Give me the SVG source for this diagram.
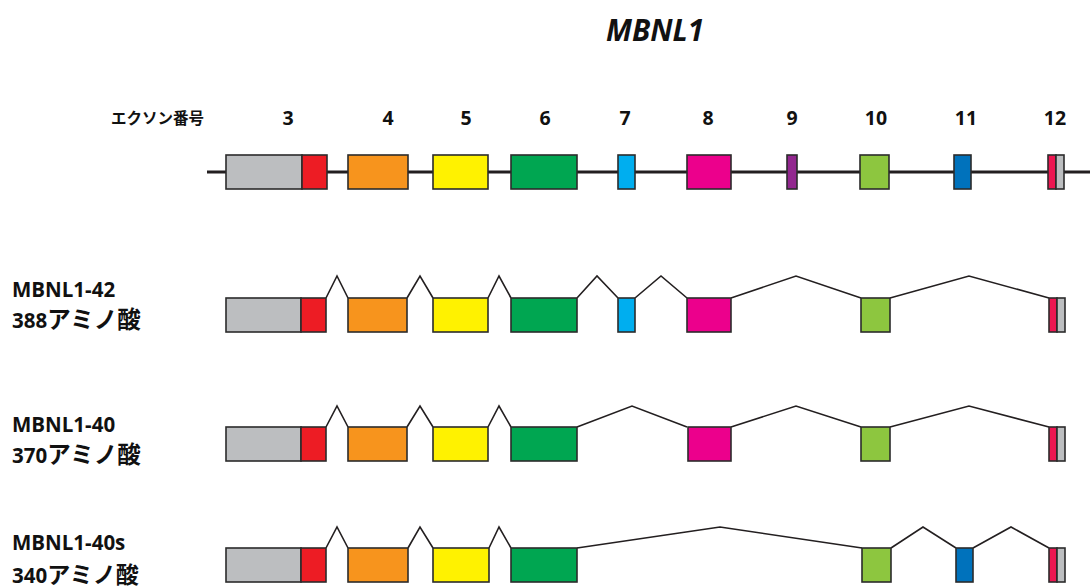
<svg xmlns="http://www.w3.org/2000/svg" width="1090" height="588" viewBox="0 0 1090 588">
  <style>
    .ex { stroke: #2b2b2b; stroke-width: 1.6; }
    .intron { fill: none; stroke: #231f20; stroke-width: 1.6; stroke-linejoin: miter; }
    .axis { stroke: #231f20; stroke-width: 3; }
    .num { font-family: "Open Sans", "Liberation Sans", sans-serif; font-weight: bold; font-size: 19.5px; fill: #111; text-anchor: middle; }
    .lab { font-family: "Open Sans", "Liberation Sans", sans-serif; font-weight: bold; font-size: 20.5px; fill: #111; }
    .jp { font-family: "Noto Sans CJK JP", sans-serif; font-weight: bold; font-size: 23.5px; }
    .jp-s { font-family: "Noto Sans CJK JP", sans-serif; font-weight: bold; font-size: 23px; }
    .gray { fill: #bcbec0; } .red { fill: #ed1c24; } .orange { fill: #f7941d; }
    .yellow { fill: #fff200; } .green { fill: #00a651; } .cyan { fill: #00aeef; }
    .magenta { fill: #ec008c; } .purple { fill: #92278f; } .lime { fill: #8dc63f; }
    .blue { fill: #0072bc; } .pink { fill: #ed1651; }
  </style>

  <!-- gene title -->
  <text x="655" y="41" text-anchor="middle" font-family="'Open Sans', 'Liberation Sans', sans-serif" font-weight="bold" font-style="italic" font-size="29.5" fill="#111">MBNL1</text>

  <!-- exon numbering -->
  <g id="exon-numbers">
    <text x="111" y="124" font-family="'Noto Sans CJK JP', sans-serif" font-weight="bold" font-size="15.5" fill="#111">エクソン番号</text>
    <text class="num" x="288" y="125">3</text>
    <text class="num" x="388" y="125">4</text>
    <text class="num" x="466" y="125">5</text>
    <text class="num" x="545" y="125">6</text>
    <text class="num" x="625" y="125">7</text>
    <text class="num" x="708" y="125">8</text>
    <text class="num" x="792" y="125">9</text>
    <text class="num" x="876" y="125">10</text>
    <text class="num" x="966" y="125">11</text>
    <text class="num" x="1055" y="125">12</text>
  </g>

  <!-- connectors: genomic axis and splice junctions -->
  <g id="connectors">
    <line class="axis" x1="207" y1="172" x2="1090" y2="172"/>
    <!-- MBNL1-42 -->
    <polyline class="intron" points="326,298 337,276 348,298"/>
    <polyline class="intron" points="407,298 420,276 433,298"/>
    <polyline class="intron" points="488,298 499,276 511,298"/>
    <polyline class="intron" points="577,298 597,276 618,298"/>
    <polyline class="intron" points="635,298 661,276 687,298"/>
    <polyline class="intron" points="731,298 796,276 861,298"/>
    <polyline class="intron" points="890,298 969,276 1049,298"/>
    <!-- MBNL1-40 -->
    <polyline class="intron" points="326,427 337,406 348,427"/>
    <polyline class="intron" points="407,427 420,406 433,427"/>
    <polyline class="intron" points="488,427 499,406 511,427"/>
    <polyline class="intron" points="577,427 632,406 687,427"/>
    <polyline class="intron" points="731,427 796,406 861,427"/>
    <polyline class="intron" points="890,427 969,406 1049,427"/>
    <!-- MBNL1-40s -->
    <polyline class="intron" points="326,548 337,527 348,548"/>
    <polyline class="intron" points="408,548 420,527 433,548"/>
    <polyline class="intron" points="489,548 499,527 511,548"/>
    <polyline class="intron" points="577,548 720,527 862,548"/>
    <polyline class="intron" points="891,548 923,527 956,548"/>
    <polyline class="intron" points="973,548 1011,527 1049,548"/>
  </g>

  <!-- genomic exon structure -->
  <g id="gene">
    <g id="g-e3"><rect class="ex gray" x="226" y="155" width="76" height="34"/><rect class="ex red" x="302" y="155" width="25" height="34"/></g>
    <g id="g-e4"><rect class="ex orange" x="348" y="155" width="60" height="34"/></g>
    <g id="g-e5"><rect class="ex yellow" x="433" y="155" width="55" height="34"/></g>
    <g id="g-e6"><rect class="ex green" x="511" y="155" width="66" height="34"/></g>
    <g id="g-e7"><rect class="ex cyan" x="618" y="155" width="17" height="34"/></g>
    <g id="g-e8"><rect class="ex magenta" x="687" y="155" width="44" height="34"/></g>
    <g id="g-e9"><rect class="ex purple" x="787" y="155" width="10" height="34"/></g>
    <g id="g-e10"><rect class="ex lime" x="860" y="155" width="29" height="34"/></g>
    <g id="g-e11"><rect class="ex blue" x="954" y="155" width="17" height="34"/></g>
    <g id="g-e12"><rect class="ex pink" x="1048" y="155" width="8" height="34"/><rect class="ex gray" x="1056" y="155" width="8" height="34"/></g>
  </g>

  <!-- isoform MBNL1-42 -->
  <g id="iso42">
    <text class="lab" x="12" y="297">MBNL1-42</text>
    <text class="lab" x="12" y="328">388<tspan class="jp">アミノ酸</tspan></text>
    <g id="i42-e3"><rect class="ex gray" x="226" y="298" width="75" height="34"/><rect class="ex red" x="301" y="298" width="25" height="34"/></g>
    <g id="i42-e4"><rect class="ex orange" x="348" y="298" width="59" height="34"/></g>
    <g id="i42-e5"><rect class="ex yellow" x="433" y="298" width="55" height="34"/></g>
    <g id="i42-e6"><rect class="ex green" x="511" y="298" width="66" height="34"/></g>
    <g id="i42-e7"><rect class="ex cyan" x="618" y="298" width="17" height="34"/></g>
    <g id="i42-e8"><rect class="ex magenta" x="687" y="298" width="44" height="34"/></g>
    <g id="i42-e10"><rect class="ex lime" x="861" y="298" width="29" height="34"/></g>
    <g id="i42-e12"><rect class="ex pink" x="1049" y="298" width="8" height="34"/><rect class="ex gray" x="1057" y="298" width="8" height="34"/></g>
  </g>

  <!-- isoform MBNL1-40 -->
  <g id="iso40">
    <text class="lab" x="12" y="432">MBNL1-40</text>
    <text class="lab" x="12" y="463">370<tspan class="jp">アミノ酸</tspan></text>
    <g id="i40-e3"><rect class="ex gray" x="226" y="427" width="75" height="34"/><rect class="ex red" x="301" y="427" width="25" height="34"/></g>
    <g id="i40-e4"><rect class="ex orange" x="348" y="427" width="59" height="34"/></g>
    <g id="i40-e5"><rect class="ex yellow" x="433" y="427" width="55" height="34"/></g>
    <g id="i40-e6"><rect class="ex green" x="511" y="427" width="66" height="34"/></g>
    <g id="i40-e8"><rect class="ex magenta" x="688" y="427" width="43" height="34"/></g>
    <g id="i40-e10"><rect class="ex lime" x="861" y="427" width="29" height="34"/></g>
    <g id="i40-e12"><rect class="ex pink" x="1049" y="427" width="8" height="34"/><rect class="ex gray" x="1057" y="427" width="8" height="34"/></g>
  </g>

  <!-- isoform MBNL1-40s -->
  <g id="iso40s">
    <text class="lab" x="12" y="550">MBNL1-40s</text>
    <text class="lab" x="12" y="583">340<tspan class="jp-s">アミノ酸</tspan></text>
    <g id="i40s-e3"><rect class="ex gray" x="226" y="548" width="75" height="34"/><rect class="ex red" x="301" y="548" width="25" height="34"/></g>
    <g id="i40s-e4"><rect class="ex orange" x="348" y="548" width="60" height="34"/></g>
    <g id="i40s-e5"><rect class="ex yellow" x="433" y="548" width="56" height="34"/></g>
    <g id="i40s-e6"><rect class="ex green" x="511" y="548" width="66" height="34"/></g>
    <g id="i40s-e10"><rect class="ex lime" x="862" y="548" width="29" height="34"/></g>
    <g id="i40s-e11"><rect class="ex blue" x="956" y="548" width="17" height="34"/></g>
    <g id="i40s-e12"><rect class="ex pink" x="1049" y="548" width="8" height="34"/><rect class="ex gray" x="1057" y="548" width="8" height="34"/></g>
  </g>
</svg>
